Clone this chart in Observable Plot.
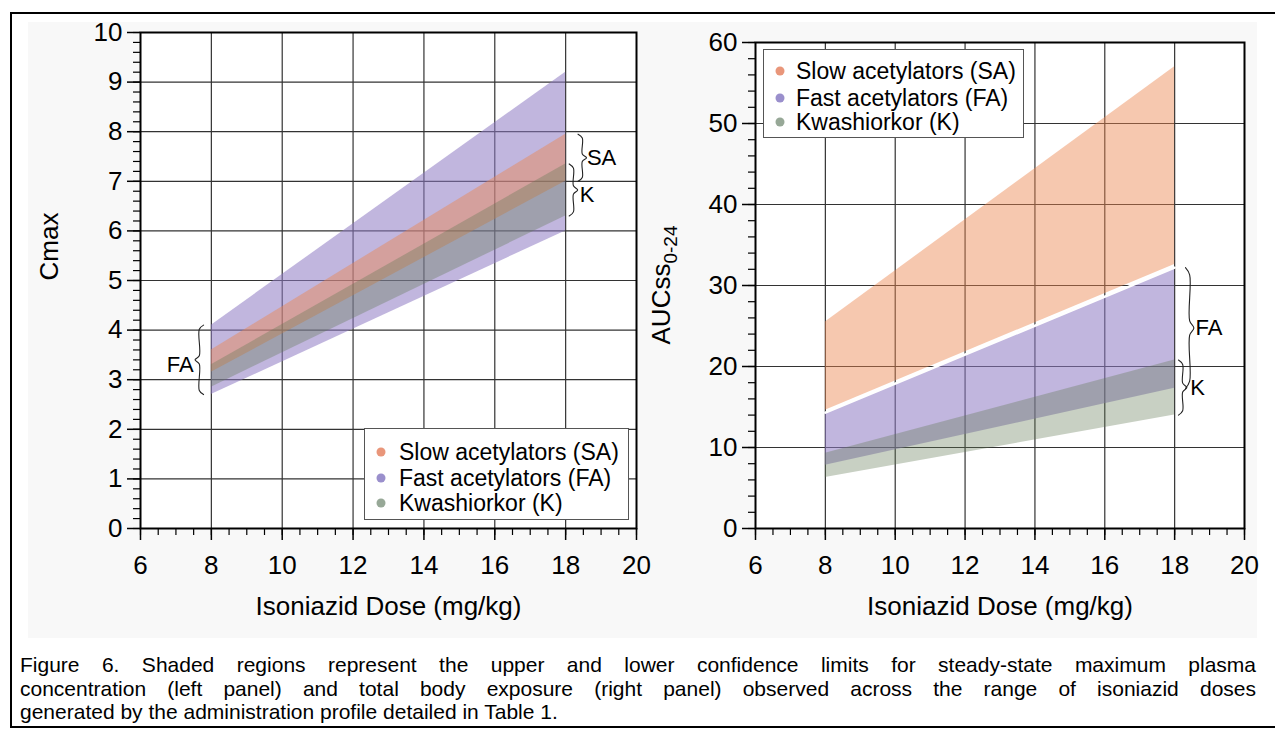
<!DOCTYPE html>
<html><head><meta charset="utf-8">
<script src="https://cdn.jsdelivr.net/npm/d3@7"></script>
<script src="https://cdn.jsdelivr.net/npm/@observablehq/plot@0.6"></script>
<style>
html,body{margin:0;padding:0;background:#fff;}
#root{position:relative;width:1275px;height:740px;overflow:hidden;font-family:"Liberation Sans",Arial,sans-serif;color:#000;}
#border{position:absolute;left:10px;top:12px;width:1290px;height:716px;border:2px solid #000;box-sizing:border-box;}
#raster{position:absolute;left:28px;top:22px;width:1229px;height:616px;background:#f8f8f8;}
.panel{position:absolute;top:0;}
.panel svg{overflow:visible;}
.legend{position:absolute;background:#fff;border:1.5px solid #555;box-sizing:border-box;}
.legend .row{position:absolute;font-size:23px;line-height:1;white-space:nowrap;transform:translateY(-50%);}
.legend .dot{position:absolute;width:9px;height:9px;border-radius:50%;transform:translate(-50%,-50%);}
#caption{position:absolute;left:20px;top:653px;width:1236px;font-size:21px;line-height:23.5px;}
#caption div{text-align:justify;text-align-last:justify;white-space:nowrap;}
#caption div.last{text-align-last:left;}
</style></head>
<body>
<div id="root">
  <div id="border"></div>
  <div id="raster"></div>
  <div id="leftPanel" class="panel" style="left:0px"></div>
  <div id="rightPanel" class="panel" style="left:640px"></div>
  <div id="caption"></div>
</div>
<script>
// ---------- data ----------
const doses = [8, 18];
const groupNames = ["Slow acetylators (SA)", "Fast acetylators (FA)", "Kwashiorkor (K)"];
const groupAbbr = ["SA", "FA", "K"];

// Cmax (left panel): lower / upper confidence limits at doses 8 and 18 mg/kg
const cmaxSALo = [3.15, 7.00];
const cmaxSAHi = [3.60, 7.95];
const cmaxFALo = [2.70, 6.00];
const cmaxFAHi = [4.10, 9.20];
const cmaxKLo  = [2.85, 6.30];
const cmaxKHi  = [3.30, 7.35];

// AUCss0-24 (right panel)
const aucSALo = [14.6, 32.6];
const aucSAHi = [25.5, 57.0];
const aucFALo = [7.8, 17.3];
const aucFAHi = [14.3, 32.2];
const aucKLo  = [6.3, 14.0];
const aucKHi  = [9.3, 20.8];

// ticks
const xTicks = [6, 8, 10, 12, 14, 16, 18, 20];
const xGrid = [8, 10, 12, 14, 16, 18];
const xMinor = d3.range(6, 20.001, 0.5);
const cmaxTicks = [0, 1, 2, 3, 4, 5, 6, 7, 8, 9, 10];
const cmaxGrid = [1, 2, 3, 4, 5, 6, 7, 8, 9];
const cmaxMinor = d3.range(0, 10.001, 0.2);
const aucTicks = [0, 10, 20, 30, 40, 50, 60];
const aucGrid = [10, 20, 30, 40, 50];
const aucMinor = d3.range(0, 60.001, 2);

const caption = [
  "Figure 6.  Shaded regions represent the upper and lower confidence limits for steady-state maximum plasma",
  "concentration (left panel) and total body exposure (right panel) observed across the range of isoniazid doses",
  "generated by the administration profile detailed in Table 1."
];

// ---------- styles ----------
const FONT = '"Liberation Sans", Arial, sans-serif';
const fillSA = "rgb(235,133,77)",  opSA = 0.45;
const fillFA = "rgb(142,122,195)", opFA = 0.55;
const fillK  = "rgb(98,121,84)",   opK  = 0.35;
const dotColors = ["#e9967a", "#9a8fcc", "#97a897"];
const gridStyle = {stroke: "#333", strokeOpacity: 1, strokeWidth: 1.2};
const intFmt = d => String(Math.round(d));

const band = (lo, hi) => doses.map((d, i) => ({dose: d, lo: lo[i], hi: hi[i]}));

// curly brace built in data coordinates from the band limits
function brace(x, top, bot, dir, w, kFrac) {
  const k = (top - bot) * kFrac, m = (top + bot) / 2;
  return [
    [x - dir * w, top], [x, top - k], [x, m + k], [x + dir * w, m],
    [x, m - k], [x, bot + k], [x - dir * w, bot]
  ].map(([px, py]) => ({px, py}));
}
const braceMark = (pts) => Plot.line(pts, {x: "px", y: "py", curve: "catmull-rom", stroke: "#222", strokeWidth: 1.1});

function commonAxes(yTicks, yMinor) {
  return [
    Plot.frame({stroke: "#000", strokeWidth: 2}),
    Plot.axisX(xTicks, {tickSize: 12, tickPadding: 15, fontSize: 26, label: null, strokeWidth: 1.5, tickFormat: intFmt}),
    Plot.axisX(xMinor, {tickSize: 7, tickFormat: () => "", label: null, strokeWidth: 1.2}),
    Plot.axisY(yTicks, {tickSize: 13, tickPadding: 5, fontSize: 26, label: null, strokeWidth: 1.5, tickFormat: intFmt}),
    Plot.axisY(yMinor, {tickSize: 7, tickFormat: () => "", label: null, strokeWidth: 1.2}),
    Plot.text(["Isoniazid Dose (mg/kg)"], {frameAnchor: "bottom", dy: 86, fontSize: 26})
  ];
}

// ---------- left panel ----------
const iE = 1, iS = 0;
const left = Plot.plot({
  width: 640, height: 640,
  marginLeft: 140, marginRight: 4, marginTop: 32, marginBottom: 112,
  x: {domain: [6, 20]},
  y: {domain: [0, 10]},
  style: {background: "transparent", overflow: "visible", fontFamily: FONT, color: "#000"},
  marks: [
    Plot.frame({fill: "white"}),
    Plot.gridX(xGrid, gridStyle),
    Plot.gridY(cmaxGrid, gridStyle),
    Plot.areaY(band(cmaxFALo, cmaxFAHi), {x: "dose", y1: "lo", y2: "hi", fill: fillFA, fillOpacity: opFA}),
    Plot.areaY(band(cmaxSALo, cmaxSAHi), {x: "dose", y1: "lo", y2: "hi", fill: fillSA, fillOpacity: opSA}),
    Plot.areaY(band(cmaxKLo, cmaxKHi), {x: "dose", y1: "lo", y2: "hi", fill: fillK, fillOpacity: opK}),
    ...commonAxes(cmaxTicks, cmaxMinor),
    Plot.text(["Cmax"], {frameAnchor: "left", dx: -91, rotate: -90, fontSize: 26}),
    braceMark(brace(18.47, cmaxSAHi[iE], cmaxSALo[iE], 1, 0.12, 0.08)),
    braceMark(brace(18.22, cmaxKHi[iE], cmaxKLo[iE], 1, 0.12, 0.08)),
    braceMark(brace(7.66, cmaxFAHi[iS], cmaxFALo[iS], -1, 0.12, 0.06)),
    Plot.text([groupAbbr[0]], {x: 18.6, y: (cmaxSAHi[iE] + cmaxSALo[iE]) / 2, textAnchor: "start", fontSize: 22}),
    Plot.text([groupAbbr[2]], {x: 18.4, y: (cmaxKHi[iE] + cmaxKLo[iE]) / 2 - 0.1, textAnchor: "start", fontSize: 22}),
    Plot.text([groupAbbr[1]], {x: 7.5, y: (cmaxFAHi[iS] + cmaxFALo[iS]) / 2 - 0.1, textAnchor: "end", fontSize: 22})
  ]
});
document.getElementById("leftPanel").appendChild(left);

// ---------- right panel ----------
const right = Plot.plot({
  width: 635, height: 640,
  marginLeft: 115, marginRight: 31, marginTop: 42, marginBottom: 112,
  x: {domain: [6, 20]},
  y: {domain: [0, 60]},
  style: {background: "transparent", overflow: "visible", fontFamily: FONT, color: "#000"},
  marks: [
    Plot.frame({fill: "white"}),
    Plot.gridX(xGrid, gridStyle),
    Plot.gridY(aucGrid, gridStyle),
    Plot.areaY(band(aucSALo, aucSAHi), {x: "dose", y1: "lo", y2: "hi", fill: fillSA, fillOpacity: opSA}),
    Plot.areaY(band(aucFALo, aucFAHi), {x: "dose", y1: "lo", y2: "hi", fill: fillFA, fillOpacity: opFA}),
    Plot.areaY(band(aucKLo, aucKHi), {x: "dose", y1: "lo", y2: "hi", fill: fillK, fillOpacity: opK}),
    Plot.line(band(aucFALo, aucFAHi), {x: "dose", y: "hi", stroke: "white", strokeWidth: 2.5}),
    ...commonAxes(aucTicks, aucMinor),
    braceMark(brace(18.43, aucFAHi[iE], aucFALo[iE], 1, 0.12, 0.06)),
    braceMark(brace(18.23, aucKHi[iE], aucKLo[iE], 1, 0.12, 0.08)),
    Plot.text([groupAbbr[1]], {x: 18.6, y: (aucFAHi[iE] + aucFALo[iE]) / 2, textAnchor: "start", fontSize: 22}),
    Plot.text([groupAbbr[2]], {x: 18.45, y: (aucKHi[iE] + aucKLo[iE]) / 2, textAnchor: "start", fontSize: 22})
  ]
});
document.getElementById("rightPanel").appendChild(right);

// y label with subscript
d3.select(right).append("text")
  .attr("transform", "translate(30,285) rotate(-90)")
  .attr("text-anchor", "middle")
  .attr("font-size", 26)
  .attr("fill", "#000")
  .call(t => {
    t.append("tspan").text("AUCss");
    t.append("tspan").attr("font-size", 19).attr("dy", 7).text("0-24");
  });

// ---------- legends ----------
function legend(box) {
  const div = document.createElement("div");
  div.className = "legend";
  Object.assign(div.style, {left: box.x + "px", top: box.y + "px", width: box.w + "px", height: box.h + "px"});
  groupNames.forEach((name, i) => {
    const cy = box.rows[i];
    const dot = document.createElement("div");
    dot.className = "dot";
    Object.assign(dot.style, {left: box.dotX + "px", top: cy + "px", background: dotColors[i]});
    const row = document.createElement("div");
    row.className = "row";
    Object.assign(row.style, {left: box.textX + "px", top: cy + "px"});
    row.textContent = name;
    div.appendChild(dot);
    div.appendChild(row);
  });
  document.getElementById("root").appendChild(div);
}
legend({x: 364, y: 428, w: 265, h: 92, dotX: 16, textX: 34, rows: [23, 49, 74]});
legend({x: 763, y: 49, w: 261, h: 89, dotX: 16, textX: 32, rows: [21, 48, 72]});

// ---------- caption ----------
const cap = document.getElementById("caption");
caption.forEach((line, i) => {
  const d = document.createElement("div");
  if (i === caption.length - 1) d.className = "last";
  d.textContent = line;
  cap.appendChild(d);
});
</script>
</body></html>
